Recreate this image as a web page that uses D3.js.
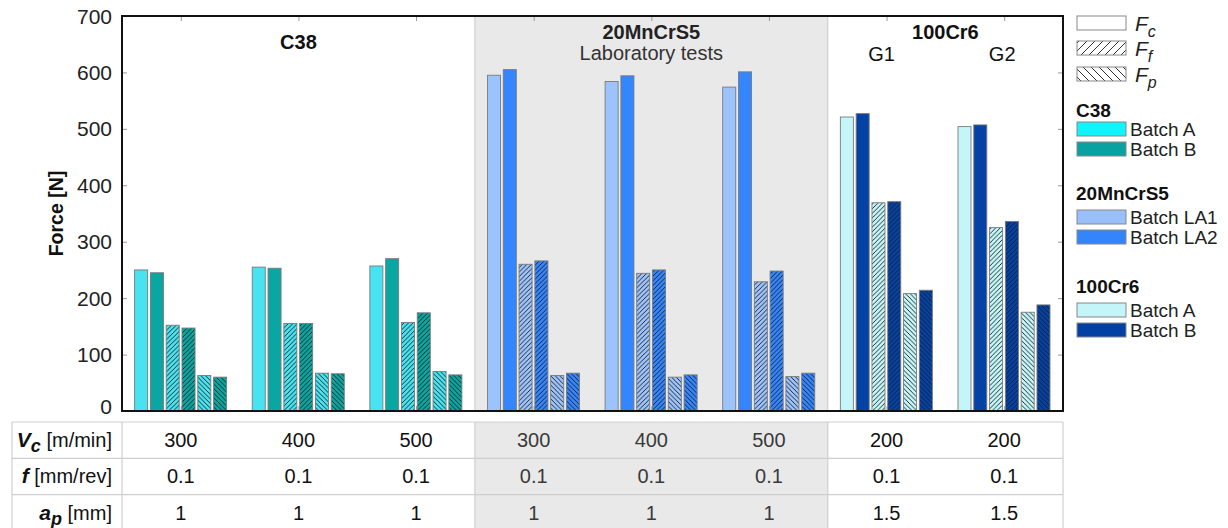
<!DOCTYPE html>
<html><head><meta charset="utf-8">
<script src="https://cdn.jsdelivr.net/npm/d3@7"></script>
<style>
html,body{margin:0;padding:0;background:#fff;}
svg{display:block;font-family:"Liberation Sans",Arial,sans-serif;}
</style></head>
<body><svg id="chart" width="1228" height="528"></svg>
<script>
// ---- data ----
const materials = ["C38","C38","C38","20MnCrS5","20MnCrS5","20MnCrS5","100Cr6","100Cr6"];
const vcValues = ["300","400","500","300","400","500","200","200"];
const fValues = ["0.1","0.1","0.1","0.1","0.1","0.1","0.1","0.1"];
const apValues = ["1","1","1","1","1","1","1.5","1.5"];
const fcA = [250,255,257,595,584,574,521,504];
const fcB = [245,253,270,605,594,601,527,507];
const ffA = [152,155,157,260,244,229,369,325];
const ffB = [147,155,174,266,250,248,371,336];
const fpA = [63,67,70,63,60,61,208,175];
const fpB = [60,66,64,67,64,67,214,188];
const yTicks = [0,100,200,300,400,500,600,700];
const legendMaterials = ["C38","20MnCrS5","100Cr6"];
const legendBatches = [["Batch A","Batch B"],["Batch LA1","Batch LA2"],["Batch A","Batch B"]];

// ---- styles ----
const barColors = {
  "C38": ["#47e3f0","#0aa6a1"],
  "20MnCrS5": ["#9cc3fc","#3386fd"],
  "100Cr6": ["#c4f5f8","#0443a5"]
};
const legendColors = {
  "C38": ["#10f4fb","#0aa1a1"],
  "20MnCrS5": ["#99c0fc","#3385fb"],
  "100Cr6": ["#c4f5f8","#0340a3"]
};

const svg = d3.select("#chart");
const L = 122, R = 1063, T = 16, B = 411;

const x0 = d3.scaleBand().domain(d3.range(8)).range([L, R]).padding(0);
const bw = x0.bandwidth();
const x1 = d3.scaleBand().domain(d3.range(6)).range([12.6, bw - 13]).paddingInner(0.175).paddingOuter(0);
const y = d3.scaleLinear().domain([0, 700]).range([B, T]);

// patterns
const defs = svg.append("defs");
function hatch(id, fill, dir, size, sw, col) {
  const p = defs.append("pattern").attr("id", id).attr("patternUnits", "userSpaceOnUse")
    .attr("width", size).attr("height", size);
  p.append("rect").attr("width", size).attr("height", size).attr("fill", fill);
  const s = size;
  const d = dir === "/" ?
    `M0,${s} L${s},0 M${-s/2},${s/2} L${s/2},${-s/2} M${s/2},${s*1.5} L${s*1.5},${s/2}` :
    `M0,0 L${s},${s} M${-s/2},${s/2} L${s/2},${s*1.5} M${s/2},${-s/2} L${s*1.5},${s/2}`;
  p.append("path").attr("d", d).attr("stroke", col).attr("stroke-width", sw);
}
Object.keys(barColors).forEach((m, mi) => {
  barColors[m].forEach((c, ci) => {
    hatch(`ff-${mi}-${ci}`, c, "/", 4.6, 0.9, "#1a1a1a");
    hatch(`fp-${mi}-${ci}`, c, "\\", 4.6, 0.9, "#1a1a1a");
  });
});
hatch("lg-ff", "#fff", "/", 8, 1, "#333");
hatch("lg-fp", "#fff", "\\", 8, 1, "#333");

const matIndex = m => legendMaterials.indexOf(m);

// gray shaded region for 20MnCrS5
const gx0 = x0(3), gx1 = x0(5) + bw;
svg.append("rect").attr("x", gx0).attr("y", T).attr("width", gx1 - gx0).attr("height", B - T).attr("fill", "#e9e9e9");
svg.append("rect").attr("x", gx0).attr("y", 422).attr("width", gx1 - gx0).attr("height", 110).attr("fill", "#e9e9e9");
[gx0, gx1].forEach(v => svg.append("line").attr("x1", v).attr("x2", v).attr("y1", T).attr("y2", B).attr("stroke", "#c8c8c8").attr("stroke-width", 1));

// axes ticks (inward, gray)
const yAxis = d3.axisLeft(y).tickValues(yTicks).tickSizeInner(-5).tickSizeOuter(0).tickPadding(10);
const gy = svg.append("g").attr("transform", `translate(${L},0)`).call(yAxis);
gy.select(".domain").remove();
gy.selectAll(".tick line").attr("stroke", "#999");
gy.selectAll(".tick text").attr("font-size", 21).attr("fill", "#222").attr("font-family", "Liberation Sans, Arial, sans-serif")
  .attr("dy", d => d === 0 ? "0.1em" : "0.34em");
const yAxisR = d3.axisRight(y).tickValues(yTicks).tickSizeInner(-5).tickSizeOuter(0).tickFormat("");
const gyr = svg.append("g").attr("transform", `translate(${R},0)`).call(yAxisR);
gyr.select(".domain").remove();
gyr.selectAll(".tick line").attr("stroke", "#999");
const xp = d3.scalePoint().domain(d3.range(8)).range([L + bw/2, R - bw/2]);
const gxt = svg.append("g").attr("transform", `translate(0,${T})`).call(d3.axisTop(xp).tickSizeInner(-5).tickSizeOuter(0).tickFormat(""));
gxt.select(".domain").remove();
gxt.selectAll(".tick line").attr("stroke", "#999");
const gxb = svg.append("g").attr("transform", `translate(0,${B})`).call(d3.axisBottom(xp).tickSizeInner(-5).tickSizeOuter(0).tickFormat(""));
gxb.select(".domain").remove();
gxb.selectAll(".tick line").attr("stroke", "#999");

// bars
const series = [
  {vals: fcA, kind: "fc", batch: 0},
  {vals: fcB, kind: "fc", batch: 1},
  {vals: ffA, kind: "ff", batch: 0},
  {vals: ffB, kind: "ff", batch: 1},
  {vals: fpA, kind: "fp", batch: 0},
  {vals: fpB, kind: "fp", batch: 1}
];
const barData = [];
for (let g = 0; g < 8; g++) {
  series.forEach((s, si) => barData.push({g, si, v: s.vals[g], kind: s.kind, batch: s.batch, mat: materials[g]}));
}
svg.append("g").selectAll("rect").data(barData).join("rect")
  .attr("x", d => x0(d.g) + x1(d.si))
  .attr("width", x1.bandwidth())
  .attr("y", d => y(d.v))
  .attr("height", d => y(0) - y(d.v))
  .attr("fill", d => d.kind === "fc" ? barColors[d.mat][d.batch] : `url(#${d.kind}-${matIndex(d.mat)}-${d.batch})`)
  .attr("stroke", "#7a7a7a").attr("stroke-width", 0.9);

// frame
svg.append("rect").attr("x", L).attr("y", T).attr("width", R - L).attr("height", B - T)
  .attr("fill", "none").attr("stroke", "#111").attr("stroke-width", 2);

// y title
svg.append("text").attr("transform", `translate(63,${(T+B)/2}) rotate(-90)`).attr("text-anchor", "middle")
  .attr("font-size", 19.5).attr("font-weight", "bold").attr("fill", "#111").text("Force [N]");

// group annotations
const cx = g => x0(g) + bw / 2;
svg.append("text").attr("x", cx(1)).attr("y", 49).attr("text-anchor", "middle").attr("font-size", 20).attr("font-weight", "bold").attr("fill", "#111").text("C38");
svg.append("text").attr("x", cx(4)).attr("y", 39).attr("text-anchor", "middle").attr("font-size", 20).attr("font-weight", "bold").attr("fill", "#222").text("20MnCrS5");
svg.append("text").attr("x", cx(4)).attr("y", 60).attr("text-anchor", "middle").attr("font-size", 20).attr("fill", "#333").text("Laboratory tests");
svg.append("text").attr("x", (cx(6) + cx(7)) / 2).attr("y", 39).attr("text-anchor", "middle").attr("font-size", 20).attr("font-weight", "bold").attr("fill", "#111").text("100Cr6");
svg.append("text").attr("x", cx(6) - 5).attr("y", 61).attr("text-anchor", "middle").attr("font-size", 20).attr("fill", "#111").text("G1");
svg.append("text").attr("x", cx(7) - 2).attr("y", 61).attr("text-anchor", "middle").attr("font-size", 20).attr("fill", "#111").text("G2");

// legend
const lx = 1077, lw = 49, lh = 14;
const forceLeg = [{f: "#fff", sub: "c", y: 16}, {f: "url(#lg-ff)", sub: "f", y: 41}, {f: "url(#lg-fp)", sub: "p", y: 67}];
forceLeg.forEach(d => {
  svg.append("rect").attr("x", lx).attr("y", d.y).attr("width", lw).attr("height", lh).attr("fill", d.f).attr("stroke", "#888").attr("stroke-width", 1);
  const t = svg.append("text").attr("x", 1135).attr("y", d.y + 15).attr("font-size", 21).attr("font-style", "italic").attr("fill", "#222");
  t.append("tspan").text("F");
  t.append("tspan").attr("dy", 6).attr("font-size", 16).text(d.sub);
});
const legY = [110, 193, 286];
legendMaterials.forEach((m, i) => {
  svg.append("text").attr("x", 1076).attr("y", legY[i] + 7).attr("font-size", 19).attr("font-weight", "bold").attr("fill", "#111").text(m);
  legendBatches[i].forEach((b, j) => {
    const ry = legY[i] + 12 + (i === 0 ? 0 : 5) + j * 20;
    svg.append("rect").attr("x", lx).attr("y", ry).attr("width", lw).attr("height", 14)
      .attr("fill", legendColors[m][j]).attr("stroke", "#888").attr("stroke-width", 1);
    svg.append("text").attr("x", 1130).attr("y", ry + 14).attr("font-size", 19).attr("fill", "#222").text(b);
  });
});

// table
const tT = 422, rowH = 36.3;
const tbl = svg.append("g");
[tT, tT + rowH, tT + 2 * rowH].forEach(v => tbl.append("line").attr("x1", 12).attr("x2", R).attr("y1", v).attr("y2", v).attr("stroke", "#cfcfcf").attr("stroke-width", 1.2));
[12, L, gx0, gx1, R].forEach(v => tbl.append("line").attr("x1", v).attr("x2", v).attr("y1", tT).attr("y2", 528).attr("stroke", "#cfcfcf").attr("stroke-width", 1.2));
const rows = [
  {main: "V", sub: "c", unit: " [m/min]", vals: vcValues},
  {main: "f", sub: "", unit: " [mm/rev]", vals: fValues},
  {main: "a", sub: "p", unit: " [mm]", vals: apValues}
];
rows.forEach((r, i) => {
  const by = tT + i * rowH + 25;
  const t = tbl.append("text").attr("x", 112).attr("y", by).attr("text-anchor", "end").attr("font-size", 20).attr("fill", "#111");
  t.append("tspan").attr("font-weight", "bold").attr("font-style", "italic").attr("font-size", 21).text(r.main);
  if (r.sub) t.append("tspan").attr("font-weight", "bold").attr("font-style", "italic").attr("font-size", 18).attr("dy", 5).text(r.sub);
  t.append("tspan").attr("dy", r.sub ? -5 : 0).text(r.unit);
  r.vals.forEach((v, g) => {
    tbl.append("text").attr("x", cx(g)).attr("y", by).attr("text-anchor", "middle").attr("font-size", 20)
      .attr("fill", materials[g] === "20MnCrS5" ? "#3a3a3a" : "#111").text(v);
  });
});
</script></body></html>
